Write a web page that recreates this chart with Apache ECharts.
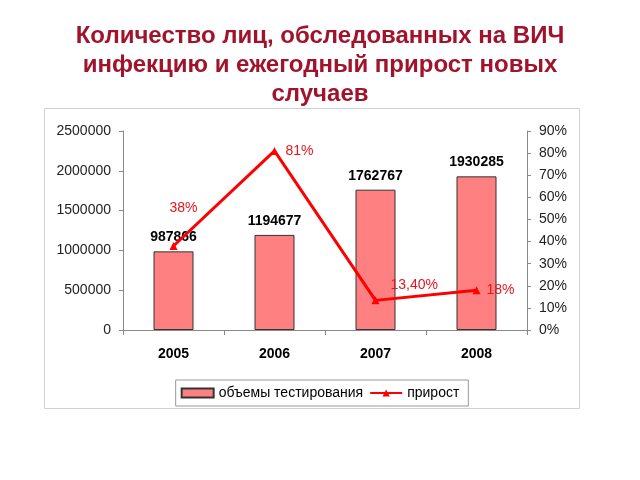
<!DOCTYPE html>
<html><head><meta charset="utf-8">
<script src="https://cdn.jsdelivr.net/npm/echarts@6/dist/echarts.min.js"></script>
<style>html,body{margin:0;padding:0;background:#fff}#c{width:640px;height:480px}</style>
</head><body><div id="c"></div>
<script>
var categories = ['2005', '2006', '2007', '2008'];
var testVolumes = [987866, 1194677, 1762767, 1930285];
var growth = [0.38, 0.81, 0.134, 0.18];
var growthLabels = ['38%', '81%', '13,40%', '18%'];

var labelOffsets = [['top', [10, -22]], ['right', [2, 0]], ['right', [6, -15]], ['right', [1, 0]]];
var font = '"Liberation Sans", Arial, sans-serif';

var chart = echarts.init(document.getElementById('c'));
chart.setOption({
  animation: false,
  textStyle: { fontFamily: font },
  title: {
    text: 'Количество лиц, обследованных на ВИЧ\nинфекцию и ежегодный прирост новых\nслучаев',
    left: 'center', top: 17,
    textStyle: { color: '#a0132b', fontSize: 24, fontWeight: 'bold', lineHeight: 29, fontFamily: font }
  },
  graphic: [{
    type: 'rect', shape: { x: 44.5, y: 108.5, width: 535, height: 300 },
    style: { fill: 'none', stroke: '#d0d0d0', lineWidth: 1 }, z: -1
  }],
  legend: {
    bottom: 74, left: 'center',
    itemGap: 6, itemWidth: 32, itemHeight: 9,
    padding: [6, 9, 6, 5],
    borderColor: '#999', borderWidth: 1,
    textStyle: { fontSize: 14, color: '#000', fontFamily: font },
    data: [
      { name: 'объемы тестирования', icon: 'rect' },
      { name: 'прирост' }
    ]
  },
  grid: { left: 123, right: 113, top: 131, bottom: 150 },
  xAxis: {
    type: 'category', data: categories, boundaryGap: true,
    axisLine: { lineStyle: { color: '#888' } },
    axisTick: { show: true, length: 5, lineStyle: { color: '#888' } },
    axisLabel: { fontWeight: 'bold', fontSize: 14, color: '#000', margin: 17 }
  },
  yAxis: [{
    type: 'value', min: 0, max: 2500000, interval: 500000,
    axisLine: { show: true, lineStyle: { color: '#888' } },
    axisTick: { show: true, length: 4, lineStyle: { color: '#888' } },
    splitLine: { show: false },
    axisLabel: { fontSize: 14, color: '#222', margin: 12,
      formatter: function (v) { return String(v); } }
  }, {
    type: 'value', min: 0, max: 0.9, interval: 0.1,
    axisLine: { show: true, lineStyle: { color: '#888' } },
    axisTick: { show: true, length: 4, inside: false, lineStyle: { color: '#888' } },
    splitLine: { show: false },
    axisLabel: { fontSize: 14, color: '#222', margin: 12,
      formatter: function (v) { return Math.round(v * 100) + '%'; } }
  }],
  series: [{
    name: 'объемы тестирования', type: 'bar', data: testVolumes, barWidth: 40,
    itemStyle: { color: '#ff8080', borderColor: '#333', borderWidth: 1 },
    label: { show: true, position: 'top', distance: 7, fontWeight: 'bold', fontSize: 14, color: '#000' }
  }, {
    name: 'прирост', type: 'line', yAxisIndex: 1,
    data: growth.map(function (v, i) {
      return { value: v, label: { position: labelOffsets[i][0], offset: labelOffsets[i][1],
        formatter: growthLabels[i] } };
    }),
    symbol: 'triangle', symbolSize: 8,
    lineStyle: { color: '#ff0000', width: 3 },
    itemStyle: { color: '#ff0000' },
    label: { show: true, fontSize: 14, color: '#e8141b' }
  }]
});
</script></body></html>
